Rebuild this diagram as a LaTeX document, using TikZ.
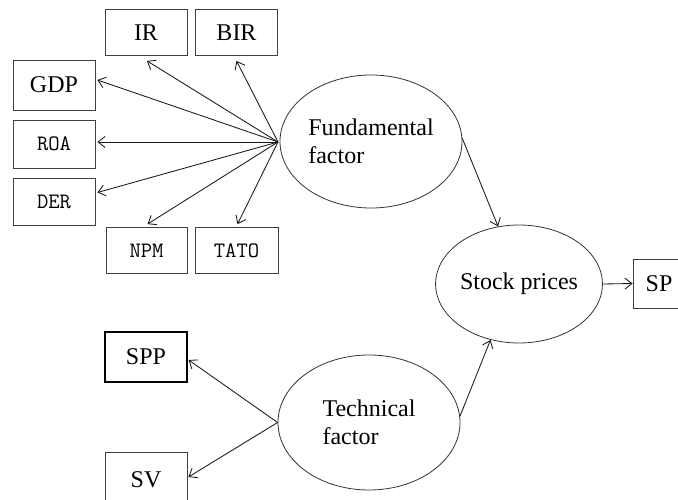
\documentclass[tikz,border=0pt]{standalone}
\usepackage{fontspec}
\setmainfont{Liberation Serif}
\usetikzlibrary{shapes.geometric,arrows.meta,calc}
\tikzset{
  box/.style={draw=black!75, line width=0.8pt, rectangle, minimum width=82pt, minimum height=46pt, inner sep=0pt, font=\fontsize{24}{26}\selectfont},
  mbox/.style={box, font=\ttfamily\fontsize{22}{24}\selectfont},
  ell/.style={draw=black!80, line width=0.8pt, ellipse, inner sep=0pt, font=\fontsize{24}{28}\selectfont, align=left},
  arr/.style={draw=black!90, line width=0.85pt, -{Straight Barb[length=7pt,width=11pt]}}
}
\begin{document}
\begin{tikzpicture}[x=1pt,y=-1pt]
\useasboundingbox[fill=white] (0,0) rectangle (678,500);
% boxes
\node[box] (IR) at (146,32.5) {IR\hspace{26pt}};
\node[box] (BIR) at (236.5,32.5) {BIR\hspace{14pt}};
\node[box, minimum height=50pt] (GDP) at (54,85) {GDP};
\node[mbox, minimum height=48pt] (ROA) at (54,144) {ROA};
\node[mbox, minimum height=47pt] (DER) at (54,201.5) {DER};
\node[mbox, minimum width=81pt] (NPM) at (146.5,250.5) {NPM};
\node[mbox, minimum width=83pt] (TATO) at (236.5,250.5) {TATO};
\node[box, minimum height=50pt, line width=1.3pt, draw=black] (SPP) at (146,357) {SPP};
\node[box, minimum height=56pt] (SV) at (146,480) {SV};
\node[box, minimum width=52pt, minimum height=49pt] (SP) at (659,283.5) {SP\hspace{9pt}};
% ellipses
\node[ell, minimum width=182pt, minimum height=133pt] (Fund) at (371,141.5) {Fundamental\\factor};
\node[ell, minimum width=146pt, minimum height=118pt] (Stock) at (519,284) {Stock prices};
\node[ell, minimum width=182pt, minimum height=135pt] (Tech) at (369,422.5) {Technical\\factor};
% hub
\coordinate (hub) at (278,142);
\draw[arr] (hub) -- ($(IR.south)+(1,5)$);
\draw[arr] (hub) -- ($(BIR.south)+(0,5)$);
\draw[arr] (hub) -- ($(GDP.east)+(2,-5)$);
\draw[arr] (hub) -- ($(ROA.east)+(2,-2)$);
\draw[arr] (hub) -- ($(DER.east)+(2,-9)$);
\draw[arr] (hub) -- ($(NPM.north)+(1,-3)$);
\draw[arr] (hub) -- ($(TATO.north)+(1,-3)$);
\draw[arr] (Fund.2) -- (Stock.110);
\draw[arr] (Tech.4) -- (Stock.243);
\draw[arr] (Stock.east) -- (SP.west);
\draw[arr] (Tech.west) -- ($(SPP.east)+(1,3)$);
\draw[arr] (Tech.west) -- ($(SV.east)+(1,-3)$);
\end{tikzpicture}
\end{document}
